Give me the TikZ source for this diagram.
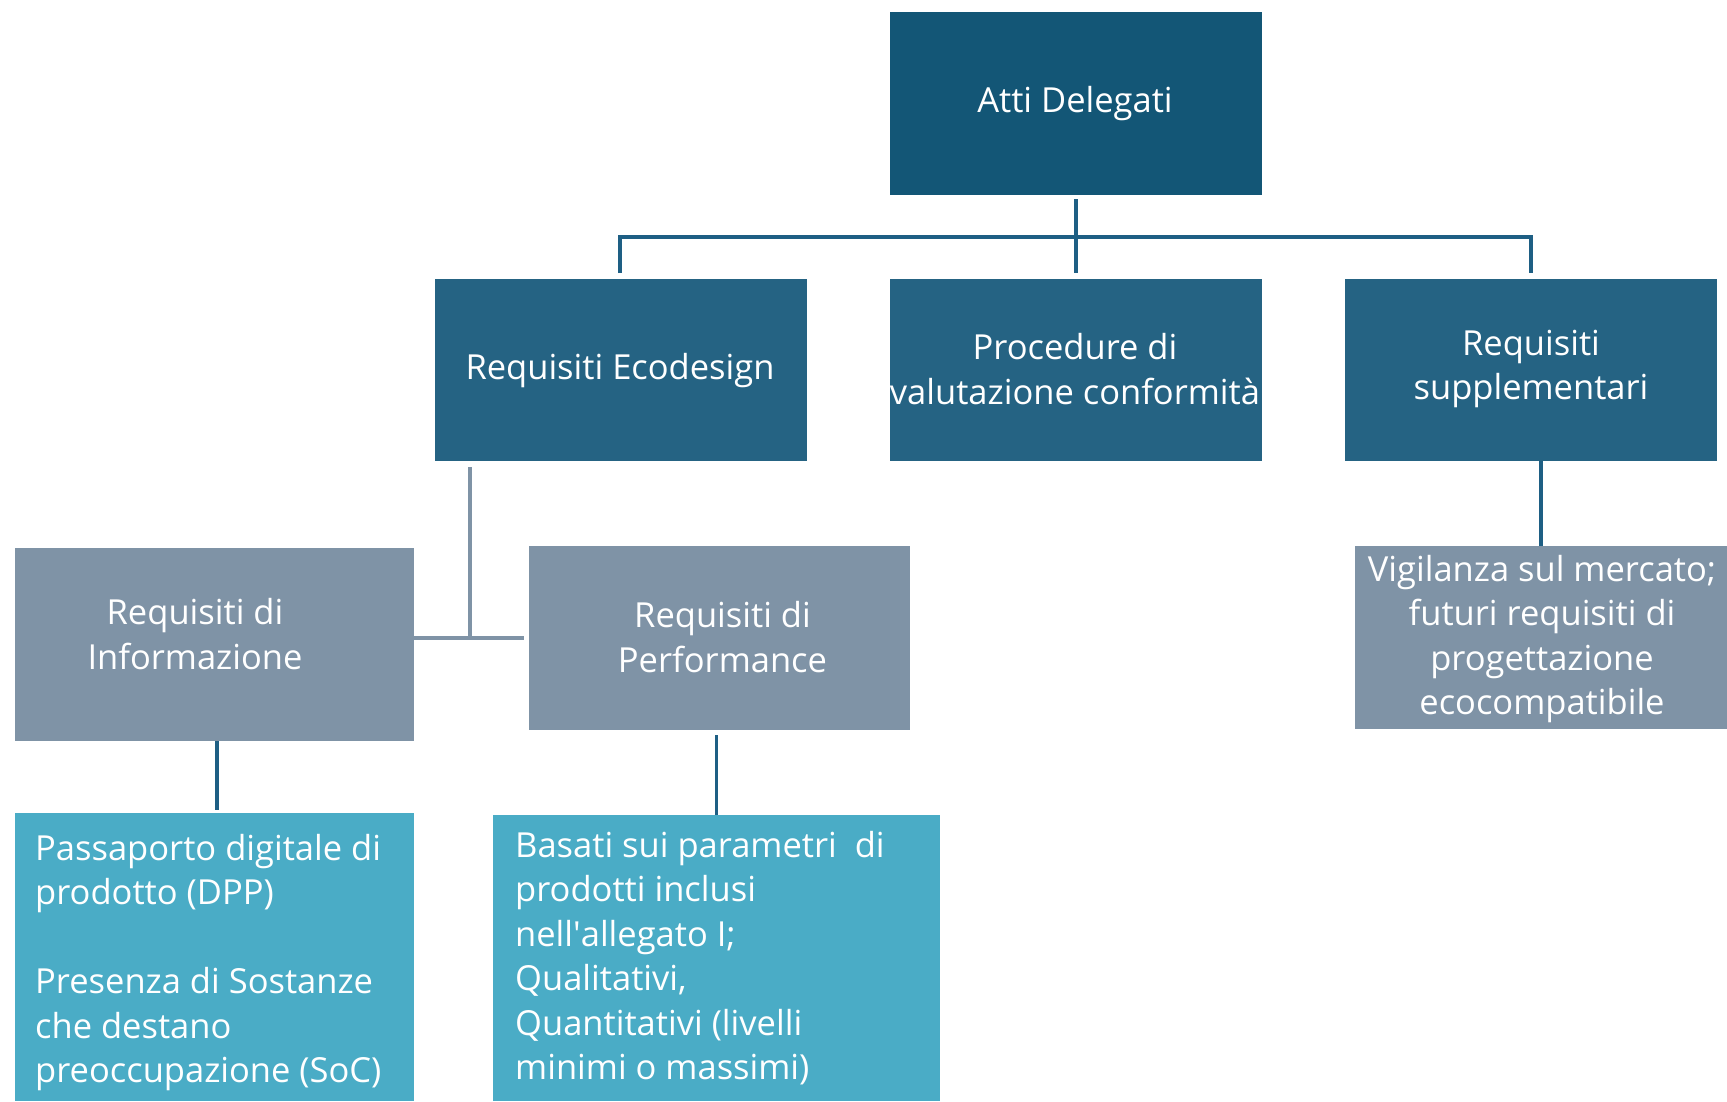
\documentclass[tikz,border=0pt]{standalone}
\usepackage{fontspec}
\setmainfont[Ligatures=NoCommon]{Open Sans}
\usetikzlibrary{calc}
\definecolor{cTop}{HTML}{135676}
\definecolor{cMid}{HTML}{256383}
\definecolor{cGrey}{HTML}{7F93A6}
\definecolor{cTeal}{HTML}{4AACC6}
\definecolor{cLine}{HTML}{1E5F84}
\begin{document}
\begin{tikzpicture}[x=1pt,y=-1pt,
  boxnode/.style={rectangle,inner sep=0pt,outer sep=0pt,draw=none},
  txt/.style={text=white,font=\fontsize{34.5}{44.5}\selectfont,inner sep=0pt,align=center},
  conn/.style={draw=cLine,line width=3.5pt},
  conng/.style={draw=cGrey,line width=3.5pt}]
\useasboundingbox[fill=white] (0,0) rectangle (1727,1101);
% boxes
\node[boxnode,fill=cTop,minimum width=372pt,minimum height=183pt] (atti) at (1076,103.5) {};
\node[boxnode,fill=cMid,minimum width=372pt,minimum height=182pt] (eco) at (621,370) {};
\node[boxnode,fill=cMid,minimum width=372pt,minimum height=182pt] (proc) at (1076,370) {};
\node[boxnode,fill=cMid,minimum width=372pt,minimum height=182pt] (supp) at (1531,370) {};
\node[boxnode,fill=cGrey,minimum width=399pt,minimum height=193pt] (info) at (214.5,644.5) {};
\node[boxnode,fill=cGrey,minimum width=381pt,minimum height=184pt] (perf) at (719.5,638) {};
\node[boxnode,fill=cGrey,minimum width=372pt,minimum height=183pt] (vig) at (1541,637.5) {};
\node[boxnode,fill=cTeal,minimum width=399pt,minimum height=288pt] (pass) at (214.5,957) {};
\node[boxnode,fill=cTeal,minimum width=447pt,minimum height=286pt] (bas) at (716.5,958) {};
% texts
\node[txt] (tatti) at (1075,104) {Atti Delegati};
\node[txt] (teco) at (620,371) {Requisiti Ecodesign};
\node[txt] (tproc) at (1075,369) {Procedure di\\valutazione conformità};
\node[txt] (tsupp) at (1531,369) {Requisiti\\supplementari};
\node[txt] (tinfo) at (195,634) {Requisiti di\\Informazione};
\node[txt] (tperf) at (722.5,637) {Requisiti di\\Performance};
\node[txt] (tvig) at (1542,639) {Vigilanza sul mercato;\\futuri requisiti di\\progettazione\\ecocompatibile};
\node[txt,anchor=base west] (tpass) at (35,860) {\parbox[t]{375pt}{\raggedright
Passaporto digitale di\\prodotto (DPP)\\[44.5pt]Presenza di Sostanze\\che destano\\preoccupazione (SoC)}};
\node[txt,anchor=base west] (tbas) at (515,857) {\parbox[t]{420pt}{\raggedright
Basati sui parametri\ \ di\\prodotti inclusi\\nell\textquotesingle allegato I;\\Qualitativi,\\Quantitativi (livelli\\minimi o massimi)}};
% connectors
\coordinate (jA) at (1076,237);
\coordinate (jB) at (470,638);
\draw[conn] ($(atti.south)+(0,4)$) -- ($(proc.north)+(0,-6)$);
\draw[conn] ($(eco.north)+(-1,-6)$) |- (jA) -| ($(supp.north)+(0,-6)$);
\draw[conng] ($(eco.south west)+(35,6)$) -- (jB);
\draw[conng] (info.east |- jB) -- ($(perf.west |- jB)+(-5,0)$);
\draw[conn] ($(info.south)+(2.5,0)$) -- ($(pass.north)+(2.5,-3)$);
\draw[conn] ($(bas.north |- perf.south)+(0,5)$) -- (bas.north);
\draw[conn] (vig.north |- supp.south) -- (vig.north);
\end{tikzpicture}
\end{document}
